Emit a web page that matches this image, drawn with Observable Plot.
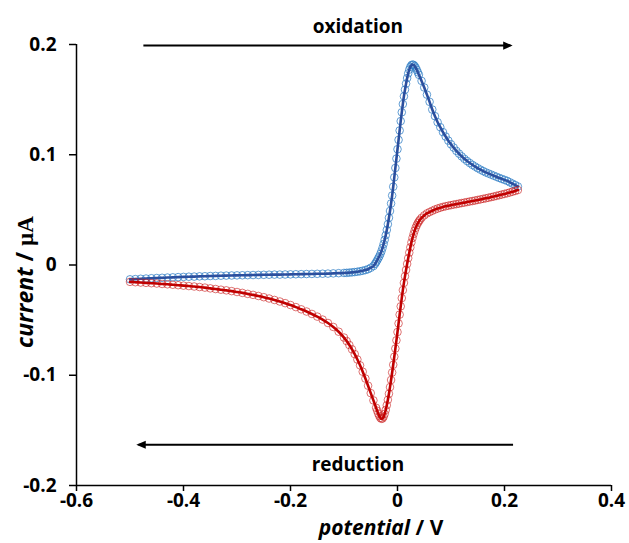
<!DOCTYPE html>
<html><head><meta charset="utf-8">
<script src="https://cdn.jsdelivr.net/npm/d3@7"></script>
<script src="https://cdn.jsdelivr.net/npm/@observablehq/plot@0.6"></script>
<style>body{margin:0;background:#fff}</style>
</head><body><div id="chart"></div>
<script>
// Forward (oxidation) scan: potential / V and current / µA
const forwardE = [
-0.50,-0.49,-0.48,-0.47,-0.46,-0.45,-0.44,-0.43,-0.42,-0.41,
-0.40,-0.39,-0.38,-0.37,-0.36,-0.35,-0.34,-0.33,-0.32,-0.31,
-0.30,-0.29,-0.28,-0.27,-0.26,-0.25,-0.24,-0.23,-0.22,-0.21,
-0.20,-0.19,-0.18,-0.17,-0.16,-0.15,-0.14,-0.13,-0.12,-0.11,
-0.100,-0.095,-0.090,-0.085,-0.080,-0.075,-0.070,-0.065,-0.060,-0.055,-0.050,-0.045,
-0.042,-0.040,-0.038,-0.036,-0.034,-0.032,-0.030,-0.028,-0.026,-0.024,
-0.022,-0.020,-0.018,-0.016,-0.014,-0.012,-0.010,-0.008,-0.006,-0.004,-0.002,
0.000,0.002,0.004,0.006,0.008,0.010,0.012,0.014,0.016,0.018,0.020,
0.022,0.024,0.026,0.028,0.030,0.032,0.034,0.036,0.038,0.040,
0.045,0.050,0.055,0.060,0.065,0.070,0.075,0.080,0.085,0.090,
0.095,0.100,0.105,0.110,0.115,0.120,0.125,0.130,0.135,0.140,
0.145,0.150,0.155,0.160,0.165,0.170,0.175,0.180,0.185,0.190,
0.195,0.200,0.205,0.210,0.215,0.220,0.225
];
const forwardI = [
-0.0130,-0.0128,-0.0125,-0.0123,-0.0120,-0.0118,-0.0116,-0.0114,-0.0112,-0.0110,
-0.0108,-0.0106,-0.0105,-0.0103,-0.0102,-0.0100,-0.0099,-0.0097,-0.0096,-0.0095,
-0.0094,-0.0093,-0.0092,-0.0091,-0.0090,-0.0089,-0.0088,-0.0087,-0.0087,-0.0086,
-0.0085,-0.0084,-0.0083,-0.0082,-0.0081,-0.0080,-0.0079,-0.0078,-0.0076,-0.0074,
-0.0072,-0.0071,-0.0069,-0.0067,-0.0064,-0.0061,-0.0057,-0.0052,-0.0046,-0.0038,-0.0025,-0.0010,
0.0010,0.0025,0.0042,0.0060,0.0078,0.0100,0.0125,0.0155,0.0190,0.0228,
0.0270,0.0318,0.0370,0.0428,0.0490,0.0558,0.0630,0.0710,0.0795,0.0880,0.0965,
0.1050,0.1135,0.1220,0.1305,0.1385,0.1460,0.1530,0.1590,0.1645,0.1695,0.1738,
0.1772,0.1797,0.1812,0.1818,0.1815,0.1805,0.1790,0.1770,0.1748,0.1725,
0.1670,0.1610,0.1545,0.1480,0.1410,0.1350,0.1295,0.1250,0.1205,0.1165,
0.1128,0.1095,0.1065,0.1035,0.1010,0.0985,0.0963,0.0943,0.0925,0.0908,
0.0893,0.0878,0.0865,0.0852,0.0840,0.0830,0.0820,0.0810,0.0800,0.0790,
0.0781,0.0772,0.0763,0.0750,0.0738,0.0725,0.0712
];
// Reverse (reduction) scan
const reverseE = [
0.225,0.220,0.215,0.210,0.205,0.200,0.195,0.190,0.185,0.180,
0.175,0.170,0.165,0.160,0.155,0.150,0.145,0.140,0.135,0.130,
0.125,0.120,0.115,0.110,0.105,0.100,0.095,0.090,0.085,0.080,
0.075,0.070,0.065,0.060,0.055,0.050,0.045,
0.042,0.040,0.038,0.036,0.034,0.032,0.030,0.028,0.026,0.024,
0.022,0.020,0.018,0.016,0.014,0.012,0.010,0.008,0.006,0.004,0.002,
0.000,-0.002,-0.004,-0.006,-0.008,-0.010,-0.012,-0.014,-0.016,-0.018,-0.020,
-0.022,-0.024,-0.026,-0.028,-0.030,-0.032,-0.034,-0.036,-0.038,-0.040,
-0.045,-0.050,-0.055,-0.060,-0.065,-0.070,-0.075,-0.080,-0.085,-0.090,-0.095,-0.100,
-0.11,-0.12,-0.13,-0.14,-0.15,-0.16,-0.17,-0.18,-0.19,-0.20,
-0.21,-0.22,-0.23,-0.24,-0.25,-0.26,-0.27,-0.28,-0.29,-0.30,
-0.31,-0.32,-0.33,-0.34,-0.35,-0.36,-0.37,-0.38,-0.39,-0.40,
-0.41,-0.42,-0.43,-0.44,-0.45,-0.46,-0.47,-0.48,-0.49,-0.50
];
const reverseI = [
0.0680,0.0672,0.0665,0.0658,0.0651,0.0645,0.0639,0.0633,0.0627,0.0621,
0.0616,0.0610,0.0605,0.0600,0.0595,0.0590,0.0585,0.0580,0.0576,0.0571,
0.0566,0.0562,0.0557,0.0552,0.0548,0.0543,0.0538,0.0533,0.0527,0.0520,
0.0512,0.0503,0.0492,0.0480,0.0468,0.0450,0.0428,
0.0410,0.0396,0.0380,0.0361,0.0338,0.0311,0.0280,0.0245,0.0205,0.0160,
0.0112,0.0062,0.0010,-0.0045,-0.0102,-0.0162,-0.0228,-0.0300,-0.0375,-0.0450,-0.0530,
-0.0608,-0.0683,-0.0758,-0.0832,-0.0905,-0.0975,-0.1043,-0.1108,-0.1168,-0.1223,-0.1272,
-0.1315,-0.1350,-0.1377,-0.1392,-0.1395,-0.1387,-0.1370,-0.1348,-0.1322,-0.1295,
-0.1228,-0.1162,-0.1095,-0.1030,-0.0968,-0.0910,-0.0857,-0.0808,-0.0765,-0.0726,-0.0690,-0.0658,
-0.0605,-0.0562,-0.0526,-0.0495,-0.0468,-0.0444,-0.0422,-0.0402,-0.0382,-0.0363,
-0.0346,-0.0331,-0.0317,-0.0304,-0.0292,-0.0281,-0.0271,-0.0262,-0.0253,-0.0245,
-0.0237,-0.0230,-0.0224,-0.0218,-0.0212,-0.0205,-0.0200,-0.0195,-0.0191,-0.0187,
-0.0183,-0.0179,-0.0175,-0.0172,-0.0168,-0.0165,-0.0162,-0.0159,-0.0156,-0.0153
];
const xTicks = [-0.6, -0.4, -0.2, 0, 0.2, 0.4];
const xTickLabels = ["-0.6", "-0.4", "-0.2", "0", "0.2", "0.4"];
const yTicks = [-0.2, -0.1, 0, 0.1, 0.2];
const yTickLabels = ["-0.2", "-0.1", "0", "0.1", "0.2"];
// Scan-direction annotations (data coordinates)
const arrowNames = ["oxidation", "reduction"];
const arrowFrom = [-0.475, 0.216];
const arrowTo = [0.211, -0.484];
const arrowLevel = [0.199, -0.163];
const labelX = [-0.074, -0.074];
const labelY = [0.2163, -0.181];

const fwd = forwardE.map((E, i) => ({E, I: forwardI[i]}));
const rev = reverseE.map((E, i) => ({E, I: reverseI[i]}));
const arrows = arrowNames.map((name, i) => ({name, x1: arrowFrom[i], x2: arrowTo[i], y: arrowLevel[i], lx: labelX[i], ly: labelY[i]}));

function headSymbol(dir) {
  return {draw(ctx, size) {
    const s = Math.sqrt(size / Math.PI);
    ctx.moveTo(dir * 0.5 * s, 0);
    ctx.lineTo(-dir * 1.6 * s, -0.9 * s);
    ctx.lineTo(-dir * 1.6 * s, 0.9 * s);
    ctx.closePath();
  }};
}

const font = "'Open Sans', Lato, sans-serif";
const plot = Plot.plot({
  width: 629, height: 543,
  marginLeft: 76, marginRight: 18, marginTop: 44, marginBottom: 58,
  style: {fontFamily: font, fontSize: "19px", fontWeight: "bold", color: "black", background: "white"},
  x: {domain: [-0.6, 0.4]},
  y: {domain: [-0.2, 0.2]},
  marks: [
    Plot.axisX({ticks: xTicks, tickFormat: d => xTickLabels[xTicks.findIndex(t => Math.abs(t - d) < 1e-9)], tickSize: 6, tickPadding: 2, strokeWidth: 1.5, fontSize: 19, fontWeight: "bold", label: null}),
    Plot.axisY({ticks: yTicks, tickFormat: d => yTickLabels[yTicks.findIndex(t => Math.abs(t - d) < 1e-9)], tickSize: 7, tickPadding: 13, strokeWidth: 1.5, fontSize: 19, fontWeight: "bold", label: null}),
    Plot.ruleX([-0.6], {strokeWidth: 1.5}),
    Plot.ruleY([-0.2], {strokeWidth: 1.5}),
    Plot.dot(fwd, {x: "E", y: "I", r: 3.8, stroke: "#2E7CC4", strokeWidth: 1, strokeOpacity: 0.75, fill: "none"}),
    Plot.line(fwd, {x: "E", y: "I", stroke: "#2B4F9E", strokeWidth: 2.6, curve: "catmull-rom"}),
    Plot.dot(rev, {x: "E", y: "I", r: 3.8, stroke: "#C81818", strokeWidth: 1, strokeOpacity: 0.6, fill: "none"}),
    Plot.line(rev, {x: "E", y: "I", stroke: "#C00000", strokeWidth: 2.6, curve: "catmull-rom"}),
    Plot.link(arrows, {x1: "x1", x2: "x2", y1: "y", y2: "y", stroke: "black", strokeWidth: 2}),
    Plot.dot(arrows.slice(0, 1), {x: "x2", y: "y", r: 4.5, symbol: headSymbol(1), fill: "black", stroke: "none"}),
    Plot.dot(arrows.slice(1, 2), {x: "x2", y: "y", r: 4.5, symbol: headSymbol(-1), fill: "black", stroke: "none"}),
    Plot.text(arrows, {x: "lx", y: "ly", text: "name", fontSize: 19, fontWeight: "bold", fill: "black", textAnchor: "middle", lineAnchor: "middle"})
  ]
});

const svg = d3.select(plot);
const xt = svg.append("text")
  .attr("x", 381).attr("y", 535)
  .attr("text-anchor", "middle")
  .style("font-family", font).style("font-size", "21px").style("font-weight", "bold").attr("fill", "black");
xt.append("tspan").style("font-style", "italic").text("potential");
xt.append("tspan").text(" / V");

const yt = svg.append("text")
  .attr("transform", "translate(33,282) rotate(-90)")
  .attr("text-anchor", "middle")
  .style("font-family", font).style("font-size", "23px").style("font-weight", "bold").attr("fill", "black");
yt.append("tspan").style("font-style", "italic").text("current");
yt.append("tspan").text(" / ");
yt.append("tspan").style("font-family", "'Liberation Serif', serif").text("µA");

document.getElementById("chart").appendChild(plot);
</script>
</body></html>
